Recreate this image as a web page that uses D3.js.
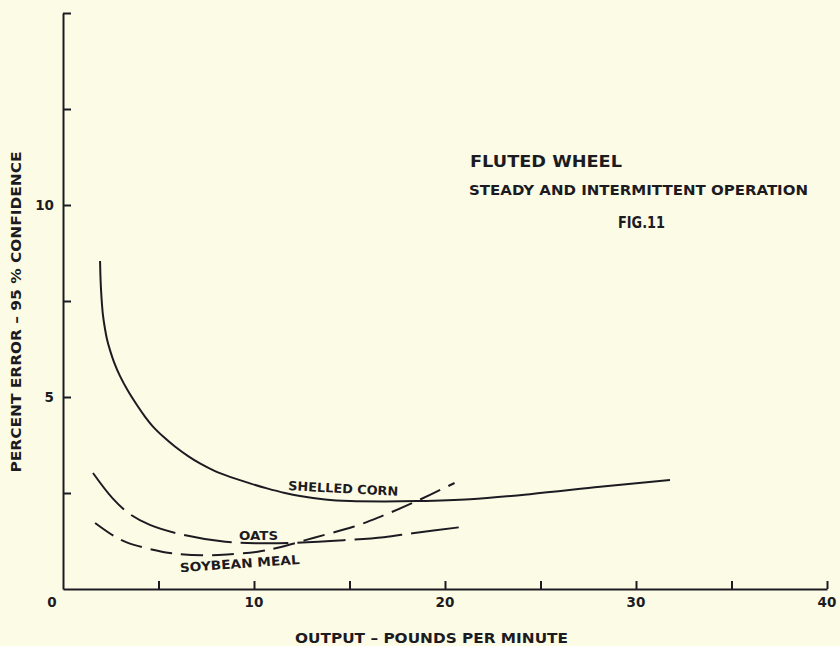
<!DOCTYPE html>
<html>
<head>
<meta charset="utf-8">
<script src="https://cdn.jsdelivr.net/npm/d3@7"></script>
<style>
  html, body { margin: 0; padding: 0; background: #fcfce6; }
  svg { display: block; }
  text { font-family: "DejaVu Sans", sans-serif; font-weight: bold; fill: #1d1b22; }
</style>
</head>
<body>
<svg id="chart" width="840" height="646"></svg>
<script>
// Feed rate (lb/min) vs. percent error at 95% confidence, fluted-wheel feeder
const shelledCorn = [
  [1.94, 8.54], [1.96, 8.15], [1.99, 7.81], [2.04, 7.42], [2.09, 7.14], [2.2, 6.77],
  [2.3, 6.51], [2.46, 6.22], [2.67, 5.91], [2.98, 5.55], [3.4, 5.16], [3.87, 4.79],
  [4.29, 4.49], [4.71, 4.23], [5.29, 3.95], [5.86, 3.71], [6.55, 3.46], [7.17, 3.27],
  [7.96, 3.07], [8.74, 2.92], [9.79, 2.75], [10.68, 2.62], [11.62, 2.5], [12.41, 2.42],
  [13.72, 2.33], [15.03, 2.29], [16.86, 2.28], [18.53, 2.29], [21.31, 2.34],
  [24.45, 2.47], [28.12, 2.66], [31.78, 2.84]
];
const oats = [
  [1.57, 3.02], [2.6, 2.36], [3.5, 1.95], [4.55, 1.67], [6.3, 1.41], [8.5, 1.23],
  [10.3, 1.19], [12.0, 1.2], [14.7, 1.27], [16.8, 1.35], [18.3, 1.45], [20.8, 1.61]
];
const soybeanMeal = [
  [1.68, 1.72], [2.7, 1.37], [3.4, 1.2], [4.65, 1.03], [5.7, 0.93], [7.3, 0.88],
  [8.6, 0.9], [10.2, 0.97], [11.3, 1.08], [13.1, 1.33], [15.2, 1.62], [16.6, 1.88],
  [18.3, 2.24], [20.5, 2.76]
];

const xTicks = [5, 10, 15, 20, 25, 30, 35, 40];
const xTickLabels = [10, 20, 30, 40];
const yTicks = [2.5, 5, 7.5, 10, 12.5, 15];
const yTickLabels = [5, 10];

const ink = "#1d1b22";
const svg = d3.select("#chart");

const x = d3.scaleLinear().domain([0, 40]).range([63, 827]);
const y = d3.scaleLinear().domain([0, 15]).range([589, 13]);

// Axes with inward-pointing ticks
const xAxis = d3.axisBottom(x).tickValues(xTicks).tickSizeInner(-8).tickSizeOuter(0).tickFormat("");
const yAxis = d3.axisLeft(y).tickValues(yTicks).tickSizeInner(-8).tickSizeOuter(0).tickFormat("");

svg.append("g").attr("transform", `translate(0,${y(0)})`).call(xAxis)
  .call(g => g.selectAll("path,line").attr("stroke", ink).attr("stroke-width", 2));
svg.append("g").attr("transform", `translate(${x(0)},0)`).call(yAxis)
  .call(g => g.selectAll("path,line").attr("stroke", ink).attr("stroke-width", 2));

// Tick labels
svg.selectAll(".xl").data(xTickLabels).enter().append("text")
  .attr("x", d => x(d)).attr("y", 607).attr("text-anchor", "middle")
  .attr("font-size", 13.5).text(d => d);
svg.selectAll(".yl").data(yTickLabels).enter().append("text")
  .attr("x", x(0) - 9).attr("y", d => y(d) + 5).attr("text-anchor", "end")
  .attr("font-size", 13.5).text(d => d);
svg.append("text").attr("x", x(0) - 11).attr("y", 607).attr("text-anchor", "middle")
  .attr("font-size", 13.5).text("0");

// Axis titles
svg.append("text").attr("x", 431.5).attr("y", 643).attr("text-anchor", "middle")
  .attr("font-size", 13.5).attr("textLength", 273).attr("lengthAdjust", "spacingAndGlyphs")
  .text("OUTPUT – POUNDS PER MINUTE");
svg.append("text").attr("transform", "translate(21,312) rotate(-90)").attr("text-anchor", "middle")
  .attr("font-size", 14).attr("textLength", 321).attr("lengthAdjust", "spacingAndGlyphs")
  .text("PERCENT ERROR – 95 % CONFIDENCE");

// Curves
const line = d3.line().x(d => x(d[0])).y(d => y(d[1])).curve(d3.curveCatmullRom.alpha(0.5));
const series = [
  { data: shelledCorn, dash: null },
  { data: oats, dash: "48 9" },
  { data: soybeanMeal, dash: "22 9" }
];
svg.selectAll(".curve").data(series).enter().append("path")
  .attr("d", d => line(d.data))
  .attr("fill", "none").attr("stroke", ink).attr("stroke-width", 2)
  .attr("stroke-linecap", "butt")
  .attr("stroke-dasharray", d => d.dash);

// Curve labels
svg.append("text").attr("transform", "translate(343,493) rotate(3)").attr("text-anchor", "middle")
  .attr("font-size", 12.5).attr("textLength", 110).attr("lengthAdjust", "spacingAndGlyphs")
  .text("SHELLED CORN");
svg.append("text").attr("x", 258.5).attr("y", 540).attr("text-anchor", "middle")
  .attr("font-size", 13).attr("textLength", 39).attr("lengthAdjust", "spacingAndGlyphs")
  .text("OATS");
svg.append("text").attr("transform", "translate(240,568) rotate(-4)").attr("text-anchor", "middle")
  .attr("font-size", 12.5).attr("textLength", 120).attr("lengthAdjust", "spacingAndGlyphs")
  .text("SOYBEAN MEAL");

// Figure caption
svg.append("text").attr("x", 470).attr("y", 167).attr("font-size", 16)
  .attr("textLength", 152).attr("lengthAdjust", "spacingAndGlyphs").text("FLUTED WHEEL");
svg.append("text").attr("x", 469).attr("y", 195).attr("font-size", 13.5)
  .attr("textLength", 339).attr("lengthAdjust", "spacingAndGlyphs").text("STEADY AND INTERMITTENT OPERATION");
svg.append("text").attr("x", 618).attr("y", 228).attr("font-size", 15)
  .attr("textLength", 47).attr("lengthAdjust", "spacingAndGlyphs").text("FIG.11");
</script>
</body>
</html>
